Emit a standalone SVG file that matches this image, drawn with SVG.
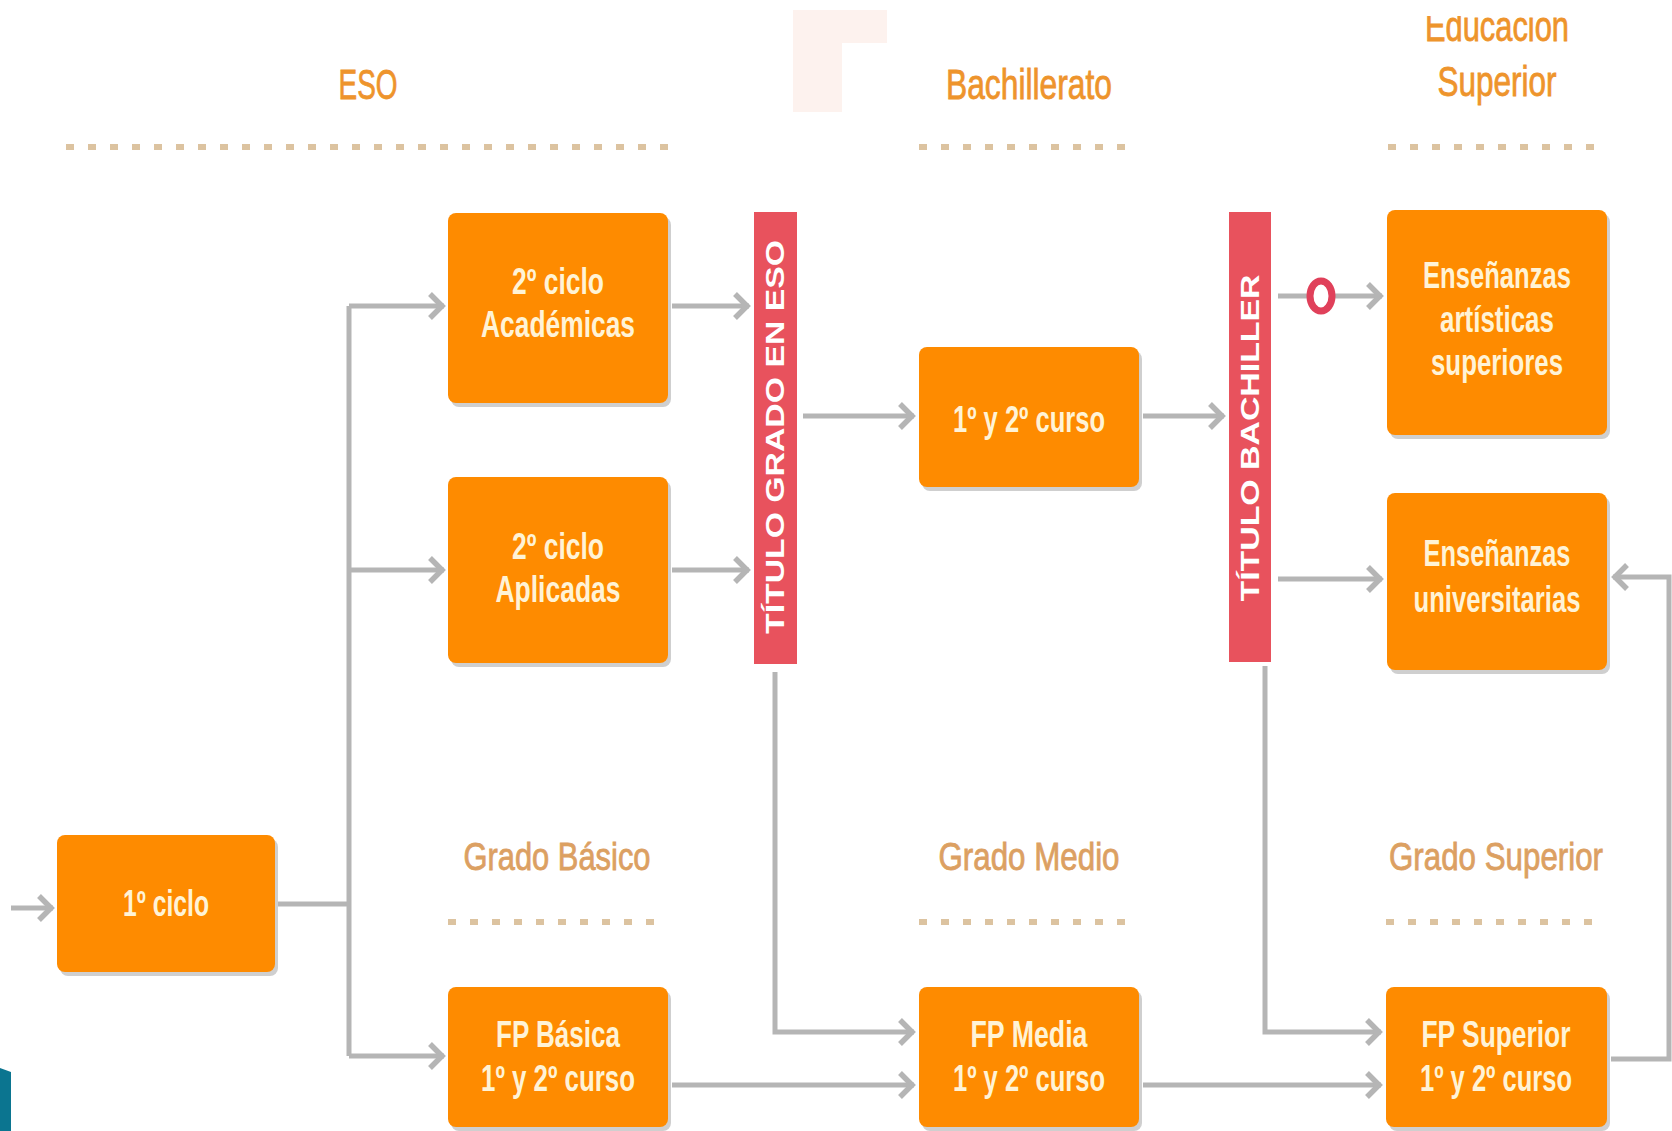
<svg xmlns="http://www.w3.org/2000/svg" width="1672" height="1131" viewBox="0 0 1672 1131">
<defs>
<style>
.box{fill:#fe8b00}
.shd{fill:#cfcfcf}
.bar{fill:#e8525d}
.nt{font-family:"Liberation Sans",Arial,sans-serif;font-size:36px;font-weight:bold;fill:#fff3d6;text-anchor:middle}
.hd{font-family:"Liberation Sans",Arial,sans-serif;font-size:42px;fill:#ee942c;stroke:#ee942c;stroke-width:0.8;text-anchor:middle}
.gd{font-family:"Liberation Sans",Arial,sans-serif;font-size:38px;fill:#dca062;stroke:#dca062;stroke-width:0.8;text-anchor:middle}
.bt{font-family:"Liberation Sans",Arial,sans-serif;font-size:25px;font-weight:bold;fill:#ffffff;text-anchor:middle}
.dots{stroke:#dcc3a0;stroke-width:6;stroke-dasharray:8 14;fill:none}
.cn{stroke:#b5b5b5;stroke-width:5;fill:none}
.ca{stroke:#b5b5b5;stroke-width:5;fill:none;marker-end:url(#arr)}
</style>
<marker id="arr" viewBox="-18 -16 22 32" refX="0" refY="0" markerWidth="22" markerHeight="32" markerUnits="userSpaceOnUse" orient="auto">
<path d="M-14,-12 L-2,0 L-14,12" fill="none" stroke="#b5b5b5" stroke-width="5.5"/>
</marker>
<clipPath id="clipEdu"><rect x="1300" y="16" width="400" height="60"/></clipPath>
</defs>
<rect width="1672" height="1131" fill="#ffffff"/>
<polygon points="793,10 887,10 887,43 842,43 842,112 793,112" fill="#fdf2ee"/>
<polygon points="0,1068 11,1072 11,1131 0,1131" fill="#0b7590"/>

<g id="headings">
<text class="hd" x="368" y="99" textLength="59" lengthAdjust="spacingAndGlyphs">ESO</text>
<line class="dots" x1="66" y1="147" x2="672" y2="147"/>
<text class="hd" x="1029" y="99" textLength="166" lengthAdjust="spacingAndGlyphs">Bachillerato</text>
<line class="dots" x1="919" y1="147" x2="1139" y2="147"/>
<text class="hd" x="1497" y="41" textLength="144" lengthAdjust="spacingAndGlyphs" clip-path="url(#clipEdu)">Educación</text>
<text class="hd" x="1497" y="96" textLength="119" lengthAdjust="spacingAndGlyphs">Superior</text>
<line class="dots" x1="1388" y1="147" x2="1608" y2="147"/>
<text class="gd" x="557" y="870" textLength="187" lengthAdjust="spacingAndGlyphs">Grado Básico</text>
<line class="dots" x1="448" y1="922" x2="668" y2="922"/>
<text class="gd" x="1029" y="870" textLength="181" lengthAdjust="spacingAndGlyphs">Grado Medio</text>
<line class="dots" x1="919" y1="922" x2="1139" y2="922"/>
<text class="gd" x="1496" y="870" textLength="214" lengthAdjust="spacingAndGlyphs">Grado Superior</text>
<line class="dots" x1="1386" y1="922" x2="1606" y2="922"/>
</g>

<g id="connectors">
<path class="ca" d="M11,908 H53"/>
<path class="cn" d="M275,904 H349"/>
<path class="cn" d="M349,306 V1056"/>
<path class="ca" d="M349,306 H444"/>
<path class="ca" d="M349,570 H444"/>
<path class="ca" d="M349,1056 H444"/>
<path class="ca" d="M672,306 H749"/>
<path class="ca" d="M672,570 H749"/>
<path class="ca" d="M803,416 H914"/>
<path class="ca" d="M1143,416 H1224"/>
<path class="cn" d="M1278,296 H1312"/>
<path class="ca" d="M1330,296 H1382"/>
<ellipse cx="1321" cy="296" rx="11" ry="15" fill="#ffffff" stroke="#e0405a" stroke-width="7"/>
<path class="ca" d="M1278,579 H1382"/>
<path class="ca" d="M775,672 V1032 H914"/>
<path class="ca" d="M672,1085 H914"/>
<path class="ca" d="M1265,666 V1032 H1381"/>
<path class="ca" d="M1143,1085 H1381"/>
<path class="ca" d="M1611,1059 H1669 V577 H1613"/>
</g>

<g id="n-ciclo1">
<rect class="shd" x="60" y="839" width="218" height="137" rx="8"/>
<rect class="box" x="57" y="835" width="218" height="137" rx="8"/>
<text class="nt" x="166" y="916" textLength="86" lengthAdjust="spacingAndGlyphs">1º ciclo</text>
</g>
<g id="n-academicas">
<rect class="shd" x="451" y="217" width="220" height="190" rx="8"/>
<rect class="box" x="448" y="213" width="220" height="190" rx="8"/>
<text class="nt" x="558" y="294" textLength="92" lengthAdjust="spacingAndGlyphs">2º ciclo</text>
<text class="nt" x="558" y="337" textLength="154" lengthAdjust="spacingAndGlyphs">Académicas</text>
</g>
<g id="n-aplicadas">
<rect class="shd" x="451" y="481" width="220" height="186" rx="8"/>
<rect class="box" x="448" y="477" width="220" height="186" rx="8"/>
<text class="nt" x="558" y="559" textLength="92" lengthAdjust="spacingAndGlyphs">2º ciclo</text>
<text class="nt" x="558" y="602" textLength="125" lengthAdjust="spacingAndGlyphs">Aplicadas</text>
</g>
<g id="n-titulo-eso">
<rect class="bar" x="754" y="212" width="43" height="452"/>
<text class="bt" transform="translate(784,437) rotate(-90)" x="0" y="0" textLength="394" lengthAdjust="spacingAndGlyphs">TÍTULO GRADO EN ESO</text>
</g>
<g id="n-bach">
<rect class="shd" x="922" y="351" width="220" height="140" rx="8"/>
<rect class="box" x="919" y="347" width="220" height="140" rx="8"/>
<text class="nt" x="1029" y="432" textLength="152" lengthAdjust="spacingAndGlyphs">1º y 2º curso</text>
</g>
<g id="n-titulo-bach">
<rect class="bar" x="1229" y="212" width="42" height="450"/>
<text class="bt" transform="translate(1259,438) rotate(-90)" x="0" y="0" textLength="327" lengthAdjust="spacingAndGlyphs">TÍTULO BACHILLER</text>
</g>
<g id="n-artisticas">
<rect class="shd" x="1390" y="214" width="220" height="225" rx="8"/>
<rect class="box" x="1387" y="210" width="220" height="225" rx="8"/>
<text class="nt" x="1497" y="288" textLength="148" lengthAdjust="spacingAndGlyphs">Enseñanzas</text>
<text class="nt" x="1497" y="332" textLength="114" lengthAdjust="spacingAndGlyphs">artísticas</text>
<text class="nt" x="1497" y="375" textLength="132" lengthAdjust="spacingAndGlyphs">superiores</text>
</g>
<g id="n-universitarias">
<rect class="shd" x="1390" y="497" width="220" height="177" rx="8"/>
<rect class="box" x="1387" y="493" width="220" height="177" rx="8"/>
<text class="nt" x="1497" y="566" textLength="147" lengthAdjust="spacingAndGlyphs">Enseñanzas</text>
<text class="nt" x="1497" y="612" textLength="167" lengthAdjust="spacingAndGlyphs">universitarias</text>
</g>
<g id="n-fpbasica">
<rect class="shd" x="451" y="991" width="220" height="140" rx="8"/>
<rect class="box" x="448" y="987" width="220" height="140" rx="8"/>
<text class="nt" x="558" y="1047" textLength="124" lengthAdjust="spacingAndGlyphs">FP Básica</text>
<text class="nt" x="558" y="1091" textLength="154" lengthAdjust="spacingAndGlyphs">1º y 2º curso</text>
</g>
<g id="n-fpmedia">
<rect class="shd" x="922" y="991" width="220" height="140" rx="8"/>
<rect class="box" x="919" y="987" width="220" height="140" rx="8"/>
<text class="nt" x="1029" y="1047" textLength="117" lengthAdjust="spacingAndGlyphs">FP Media</text>
<text class="nt" x="1029" y="1091" textLength="152" lengthAdjust="spacingAndGlyphs">1º y 2º curso</text>
</g>
<g id="n-fpsuperior">
<rect class="shd" x="1389" y="991" width="221" height="140" rx="8"/>
<rect class="box" x="1386" y="987" width="221" height="140" rx="8"/>
<text class="nt" x="1496" y="1047" textLength="149" lengthAdjust="spacingAndGlyphs">FP Superior</text>
<text class="nt" x="1496" y="1091" textLength="152" lengthAdjust="spacingAndGlyphs">1º y 2º curso</text>
</g>
</svg>
